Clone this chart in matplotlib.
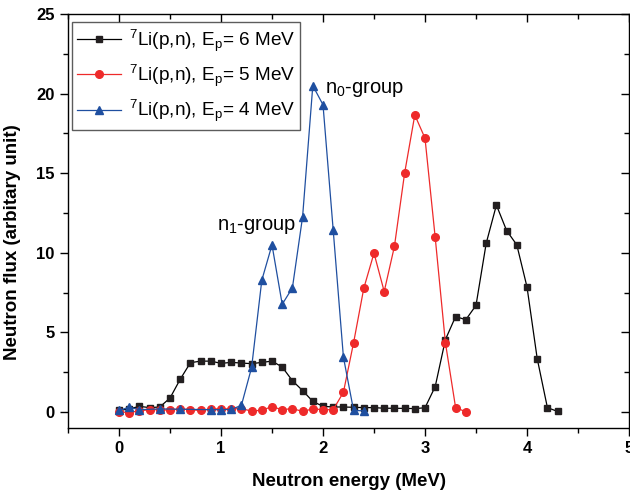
import matplotlib
matplotlib.use('Agg')
import matplotlib.pyplot as plt
from matplotlib.ticker import MultipleLocator

plt.rcParams['font.family'] = ['Liberation Sans', 'DejaVu Sans']
plt.rcParams['mathtext.fontset'] = 'custom'
plt.rcParams['mathtext.rm'] = 'Liberation Sans'
plt.rcParams['mathtext.it'] = 'Liberation Sans:italic'
plt.rcParams['mathtext.bf'] = 'Liberation Sans:bold'
plt.rcParams['mathtext.default'] = 'regular'

# Ep = 6 MeV
e6 = [0.0, 0.1, 0.2, 0.3, 0.4, 0.5, 0.6, 0.7, 0.8, 0.9, 1.0, 1.1, 1.2, 1.3, 1.4,
      1.5, 1.6, 1.7, 1.8, 1.9, 2.0, 2.1, 2.2, 2.3, 2.4, 2.5, 2.6, 2.7, 2.8, 2.9,
      3.0, 3.1, 3.2, 3.3, 3.4, 3.5, 3.6, 3.7, 3.8, 3.9, 4.0, 4.1, 4.2, 4.3]
f6 = [0.1, 0.2, 0.36, 0.28, 0.32, 0.88, 2.06, 3.1, 3.2, 3.2, 3.06, 3.12, 3.08, 3.04, 3.12,
      3.2, 2.83, 1.97, 1.35, 0.67, 0.36, 0.32, 0.32, 0.3, 0.28, 0.28, 0.24, 0.24, 0.23, 0.22,
      0.27, 1.6, 4.55, 6.0, 5.8, 6.7, 10.6, 13.0, 11.4, 10.5, 7.86, 3.36, 0.28, 0.04]

# Ep = 5 MeV
e5 = [0.0, 0.1, 0.2, 0.3, 0.4, 0.5, 0.6, 0.7, 0.8, 0.9, 1.0, 1.1, 1.2, 1.3, 1.4,
      1.5, 1.6, 1.7, 1.8, 1.9, 2.0, 2.1, 2.2, 2.3, 2.4, 2.5, 2.6, 2.7, 2.8, 2.9,
      3.0, 3.1, 3.2, 3.3, 3.4]
f5 = [0.02, -0.03, 0.08, 0.15, 0.15, 0.12, 0.2, 0.15, 0.1, 0.2, 0.2, 0.2, 0.22, 0.06, 0.12,
      0.34, 0.15, 0.22, 0.04, 0.2, 0.15, 0.15, 1.24, 4.36, 7.78, 9.98, 7.57, 10.4, 15.0, 18.66,
      17.2, 10.97, 4.36, 0.28, 0.02]

# Ep = 4 MeV
e4 = [0.0, 0.1, 0.2, 0.4, 0.6, 0.9, 1.0, 1.1, 1.2, 1.3, 1.4, 1.5, 1.6, 1.7, 1.8,
      1.9, 2.0, 2.1, 2.2, 2.3, 2.4]
f4 = [0.1, 0.31, 0.15, 0.2, 0.18, 0.15, 0.15, 0.17, 0.42, 2.8, 8.28, 10.5, 6.77, 7.8, 12.27,
      20.5, 19.3, 11.43, 3.46, 0.1, 0.08]

labels = [r'$^{7}$Li(p,n), E$_{p}$= 6 MeV',
          r'$^{7}$Li(p,n), E$_{p}$= 5 MeV',
          r'$^{7}$Li(p,n), E$_{p}$= 4 MeV']

fig = plt.figure(figsize=(6.3, 4.97), dpi=100)
ax = fig.add_axes([68 / 630, 1 - 428 / 497, (629 - 68) / 630, (428 - 14) / 497])

ax.plot(e6, f6, '-s', color='#000000', mfc='#231f20', mec='#231f20', lw=0.9, ms=5, label=labels[0])
ax.plot(e5, f5, '-o', color='#ee2a2a', mfc='#ee2a2a', mec='#ee2a2a', lw=0.9, ms=5.5, label=labels[1])
ax.plot(e4, f4, '-^', color='#1f4fa0', mfc='#1f4fa0', mec='#1f4fa0', lw=0.9, ms=6, label=labels[2])

ax.set_xlim(-0.5, 5)
ax.set_ylim(-1, 25)
ax.xaxis.set_major_locator(MultipleLocator(1))
ax.xaxis.set_minor_locator(MultipleLocator(0.5))
ax.yaxis.set_major_locator(MultipleLocator(5))
ax.yaxis.set_minor_locator(MultipleLocator(2.5))

ax.tick_params(axis='both', which='both', width=1, labelsize=12)
ax.tick_params(axis='both', which='major', length=6)
ax.tick_params(axis='both', which='minor', length=3.5)
ax.tick_params(top=True, right=True, which='both')
for lab in ax.get_xticklabels() + ax.get_yticklabels():
    lab.set_fontweight('bold')
for sp in ax.spines.values():
    sp.set_linewidth(1)

# top/right ticks point in, bottom/left out
ax.xaxis.set_tick_params(which='both', direction='out')
ax.yaxis.set_tick_params(which='both', direction='out')
for t in ax.xaxis.get_major_ticks() + ax.xaxis.get_minor_ticks():
    t.tick2line.set_marker(3)
for t in ax.yaxis.get_major_ticks() + ax.yaxis.get_minor_ticks():
    t.tick2line.set_marker(0)

ax.set_xlabel('Neutron energy (MeV)', fontsize=13.5, fontweight='bold', labelpad=12)
ax.set_ylabel('Neutron flux (arbitary unit)', fontsize=13.5, fontweight='bold', labelpad=10)
ax.yaxis.set_label_coords(-0.083, 0.45)

ax.text(0.96, 11.7, r'n$_{1}$-group', fontsize=14.5, va='center', ha='left')
ax.text(2.02, 20.3, r'n$_{0}$-group', fontsize=14.5, va='center', ha='left')

leg = ax.legend(loc='upper left', bbox_to_anchor=(72 / 630, 1 - 22 / 497),
                bbox_transform=fig.transFigure, fontsize=13.7, frameon=True,
                fancybox=False, borderaxespad=0, handlelength=2.3,
                labelspacing=0.48, borderpad=0.28, handletextpad=0.4)
leg.get_frame().set_edgecolor('#333333')
leg.get_frame().set_linewidth(1)

fig.savefig('out.png', dpi=100)
